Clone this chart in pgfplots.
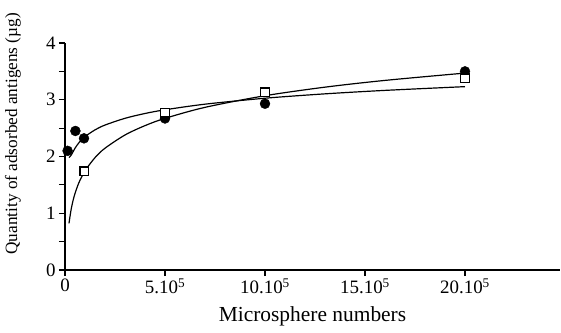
\documentclass[border=0pt]{standalone}
\usepackage{pgfplots}
\pgfplotsset{compat=1.18}
\usepackage{fontspec}
\setmainfont{Liberation Serif}
\begin{document}
\begin{tikzpicture}
\begin{axis}[
  at={(0,0)}, anchor=south west,
  scale only axis, width=495bp, height=227bp,
  xmin=0, xmax=24.75, ymin=0, ymax=4,
  axis x line=bottom, axis y line=left,
  axis line style={-, line width=1.3pt},
  xtick={0,5,10,15,20},
  xticklabels={0,{5.10\textsuperscript{5}},{10.10\textsuperscript{5}},{15.10\textsuperscript{5}},{20.10\textsuperscript{5}}},
  ytick={0,1,2,3,4},
  minor ytick={0.5,1.5,2.5,3.5},
  tick align=outside,
  major tick length=6bp, minor tick length=6bp,
  every tick/.style={line width=1.1pt, black},
  tick label style={font=\fontsize{19}{22}\selectfont},
  xticklabel style={yshift=1bp},
  /pgf/number format/assume math mode=true,
  xlabel={Microsphere numbers},
  ylabel={Quantity of adsorbed antigens (µg)},
  xlabel style={font=\fontsize{21.5}{25}\selectfont, at={(axis description cs:0.50,-0.205)}, anchor=center},
  ylabel style={font=\fontsize{17.3}{21}\selectfont, at={(axis description cs:-0.105,0.60)}, anchor=center},
  clip=false,
]
% trend line for filled circles
\addplot[black, line width=1.2pt, smooth] coordinates {
 (0.2,1.98) (0.3,2.02) (0.4,2.081) (0.5,2.146) (0.7,2.245) (1,2.35) (1.5,2.469) (2,2.554)
 (3,2.673) (4,2.758) (5,2.823) (7,2.922) (10,3.027) (13,3.104) (16,3.165) (20,3.231)};
% trend line for open squares
\addplot[black, line width=1.2pt, smooth] coordinates {
 (0.2,0.822) (0.3,1.055) (0.4,1.220) (0.5,1.348) (0.7,1.542) (1,1.747) (1.5,1.980)
 (2,2.146) (3,2.379) (4,2.544) (5,2.672) (7,2.866) (10,3.071) (13,3.222) (16,3.341) (20,3.470)};
% filled circles
\addplot[only marks, mark=*, mark size=5pt, mark options={fill=black, draw=black}] coordinates {
 (0.13,2.10) (0.52,2.45) (0.95,2.32) (5,2.67) (10,2.93) (20,3.50)};
% open squares
\addplot[only marks, mark=square*, mark size=4.3pt, mark options={fill=white, draw=black, line width=1.3pt}] coordinates {
 (0.97,1.74) (5,2.77) (10,3.13) (20,3.38)};
\end{axis}
\pgfresetboundingbox
\useasboundingbox (-65bp,-63bp) rectangle (496bp,270bp);
\end{tikzpicture}
\end{document}
